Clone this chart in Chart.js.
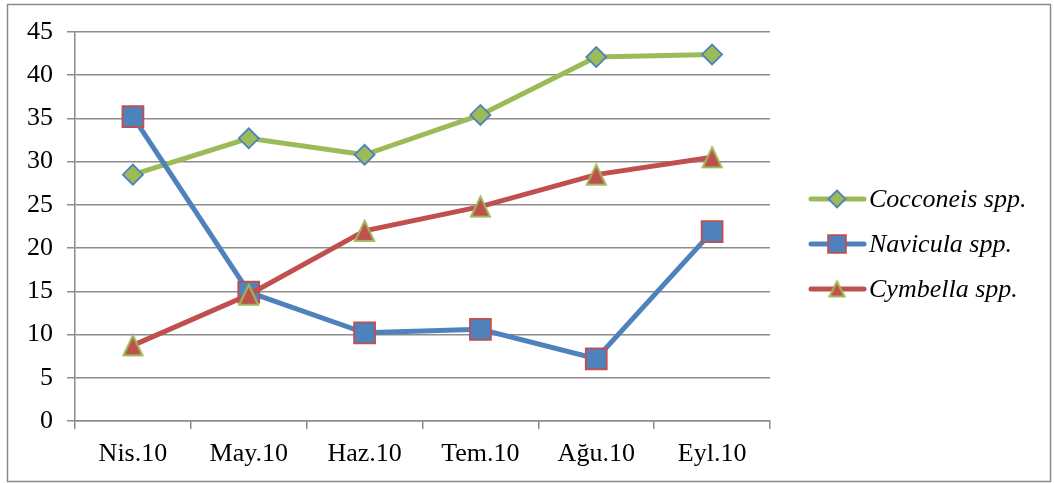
<!DOCTYPE html>
<html>
<head>
<meta charset="utf-8">
<script src="https://cdn.jsdelivr.net/npm/chart.js@4"></script>
<style>
  html, body { margin: 0; padding: 0; background: #fff; }
  #wrap { width: 1054px; height: 483px; position: relative; }
</style>
</head>
<body>
<div id="wrap"><canvas id="c" width="1054" height="483"></canvas></div>
<script>
// Monthly counts per diatom genus (2010)
const months = ['Nis.10', 'May.10', 'Haz.10', 'Tem.10', 'Ağu.10', 'Eyl.10'];
const cocconeis = [28.5, 32.7, 30.8, 35.4, 42.1, 42.4];
const navicula = [35.2, 14.9, 10.2, 10.6, 7.2, 21.9];
const cymbella = [8.75, 14.6, 22.0, 24.8, 28.5, 30.5];
const seriesNames = ['Cocconeis spp.', 'Navicula spp.', 'Cymbella spp.'];
const yTicks = { min: 0, max: 45, step: 5 };

const GREEN = '#9BBB59', BLUE = '#4F81BD', RED = '#C0504D';
const GRID = '#8c8c8c';
const FONT = '"Liberation Serif", "Times New Roman", serif';

// Triangle marker centred on its bounding box (slightly taller than wide)
function triangleMarker(w, h, fill, stroke, lw) {
  const pad = 2;
  const cv = document.createElement('canvas');
  cv.width = w + pad * 2;
  cv.height = h + pad * 2;
  const g = cv.getContext('2d');
  g.beginPath();
  g.moveTo(pad + w / 2, pad + lw / 2);
  g.lineTo(pad + w - lw / 2, pad + h - lw / 2);
  g.lineTo(pad + lw / 2, pad + h - lw / 2);
  g.closePath();
  g.fillStyle = fill;
  g.fill();
  g.lineWidth = lw;
  g.lineJoin = 'miter';
  g.strokeStyle = stroke;
  g.stroke();
  return cv;
}

function drawMarker(ctx, style, x, y, r) {
  if (style === 'rectRot') {
    ctx.moveTo(x - r, y); ctx.lineTo(x, y - r); ctx.lineTo(x + r, y); ctx.lineTo(x, y + r); ctx.closePath();
  } else if (style === 'rect') {
    const s = Math.SQRT1_2 * r;
    ctx.rect(x - s, y - s, 2 * s, 2 * s);
  }
}

const triBig = triangleMarker(21, 22, RED, GREEN, 2);
const triSmall = triangleMarker(17, 17, RED, GREEN, 2);

// Chart border plus a legend with line + marker samples on the right
const framePlugin = {
  id: 'frameAndLegend',
  afterDraw(chart) {
    const ctx = chart.ctx;
    ctx.save();
    ctx.strokeStyle = '#8a8a8a';
    ctx.lineWidth = 1.5;
    ctx.strokeRect(7.5, 4.5, 1043, 477);

    const rows = [199, 244, 289];
    chart.data.datasets.forEach((ds, i) => {
      const y = rows[i];
      ctx.strokeStyle = ds.borderColor;
      ctx.lineWidth = 5;
      ctx.lineCap = 'round';
      ctx.beginPath();
      ctx.moveTo(811, y);
      ctx.lineTo(864, y);
      ctx.stroke();

      if (typeof ds.pointStyle === 'string') {
        ctx.fillStyle = ds.pointBackgroundColor;
        ctx.strokeStyle = ds.pointBorderColor;
        ctx.lineWidth = ds.pointBorderWidth;
        ctx.beginPath();
        drawMarker(ctx, ds.pointStyle, 837, y, ds.pointRadius * 0.85);
        ctx.fill();
        ctx.stroke();
      } else {
        ctx.drawImage(triSmall, 837 - triSmall.width / 2, y - triSmall.height / 2);
      }

      ctx.fillStyle = '#000';
      ctx.font = 'italic 26px ' + FONT;
      ctx.textBaseline = 'middle';
      ctx.textAlign = 'left';
      ctx.fillText(ds.label, 869, y + 1);
    });
    ctx.restore();
  }
};

// Later series are painted above earlier ones (lower order = on top)
function series(label, data, line, style, radius, fill, border, order) {
  return {
    label, data, order,
    borderColor: line,
    borderWidth: 5,
    pointStyle: style,
    pointRadius: radius,
    pointHoverRadius: radius,
    pointBackgroundColor: fill,
    pointBorderColor: border,
    pointBorderWidth: 1.8,
    tension: 0,
    fill: false,
    clip: false
  };
}

new Chart(document.getElementById('c'), {
  type: 'line',
  data: {
    labels: months,
    datasets: [
      series(seriesNames[0], cocconeis, GREEN, 'rectRot', 10, GREEN, BLUE, 2),
      series(seriesNames[1], navicula, BLUE, 'rect', 14.8, BLUE, RED, 1),
      series(seriesNames[2], cymbella, RED, triBig, 12, RED, GREEN, 0)
    ]
  },
  options: {
    responsive: false,
    animation: false,
    devicePixelRatio: 1,
    layout: { padding: { left: 8, top: 32, right: 284, bottom: 0 } },
    plugins: { legend: { display: false }, tooltip: { enabled: false } },
    scales: {
      x: {
        offset: true,
        afterFit(scale) { scale.height = 62; },
        grid: {
          offset: true,
          drawOnChartArea: false,
          drawTicks: true,
          tickLength: 8,
          color: GRID,
          lineWidth: 1.5
        },
        border: { display: true, color: GRID, width: 1.5 },
        ticks: {
          color: '#000',
          font: { family: FONT, size: 26 },
          padding: 10,
          maxRotation: 0
        }
      },
      y: {
        min: yTicks.min,
        max: yTicks.max,
        afterFit(scale) { scale.width = 67; },
        grid: {
          color: GRID,
          lineWidth: 1.5,
          tickLength: 8,
          drawTicks: true
        },
        border: { display: true, color: GRID, width: 1.5 },
        ticks: {
          stepSize: yTicks.step,
          color: '#000',
          font: { family: FONT, size: 26 },
          padding: 14
        }
      }
    }
  },
  plugins: [framePlugin]
});
</script>
</body>
</html>
